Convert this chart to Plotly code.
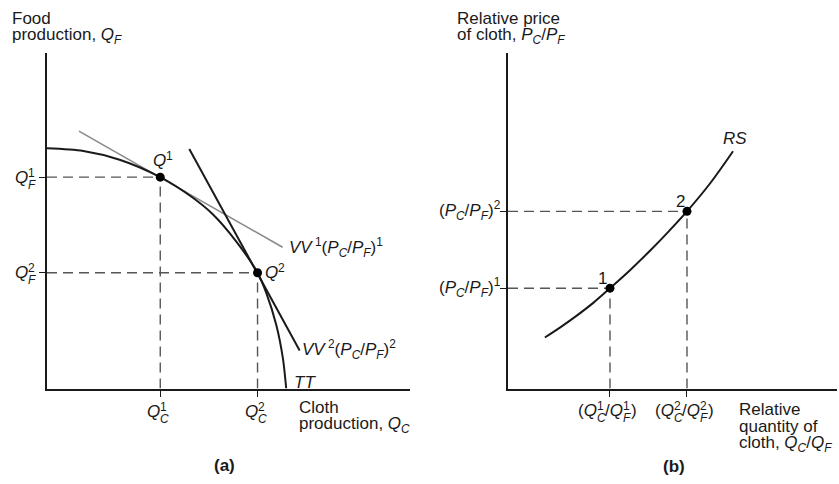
import plotly.graph_objects as go

W, H = 839, 484
FONT = "Liberation Sans, Arial, Helvetica, sans-serif"
INK = "#1a1a1a"
FS, FSS = 17, 12

# ---------------- Panel (a) data: production possibility frontier ----------------
tt_x = [0, 1, 2, 3.12, 4, 4.56, 5.2, 5.8, 6.04, 6.32, 6.5, 6.59]
tt_y = [7.16, 7.08, 6.82, 6.3, 5.70, 5.2, 4.4, 3.45, 2.85, 1.88, 0.89, 0]
vv1_x = [0.88, 6.49]
vv1_y = [7.67, 4.21]
vv2_x = [3.92, 6.96]
vv2_y = [7.14, 1.13]
prod_c = [3.12, 5.8]    # Q_C^1, Q_C^2
prod_f = [6.3, 3.45]    # Q_F^1, Q_F^2

# ---------------- Panel (b) data: relative supply ----------------
rs_x = [1.12, 1.6, 2.1, 2.6, 3.10, 3.7, 4.3, 4.9, 5.44, 6.14, 6.84]
rs_y = [1.52, 1.83, 2.18, 2.56, 2.99, 3.52, 4.09, 4.70, 5.28, 6.11, 7.07]
rel_q = [3.10, 5.44]    # (Q_C/Q_F)^1, ^2
rel_p = [2.99, 5.28]    # (P_C/P_F)^1, ^2
point_labels = ["1", "2"]


def px(xp, yp):
    return xp / W, 1 - yp / H


def ann(text, x, y, xref="paper", yref="paper", xanchor="left", yanchor="middle",
        xshift=0, yshift=0, size=FS):
    return dict(text=text, x=x, y=y, xref=xref, yref=yref, xanchor=xanchor,
                yanchor=yanchor, xshift=xshift, yshift=yshift, showarrow=False,
                font=dict(size=size, family=FONT, color=INK), borderpad=0, borderwidth=0)


def stack(x, y, xref, yref, base, sup, sub, xs, ys):
    out = [ann(base, x, y, xref, yref, xanchor="right", xshift=xs, yshift=ys)]
    out.append(ann(sup, x, y, xref, yref, xanchor="left", xshift=xs, yshift=ys + 4.5, size=FSS))
    if sub:
        out.append(ann("<i>%s</i>" % sub, x, y, xref, yref, xanchor="left",
                       xshift=xs, yshift=ys - 7.5, size=FSS))
    return out


fig = go.Figure()
DASH = dict(color="#555555", width=1.4, dash="10px,6px")

# Panel (a) traces
for i in range(2):
    fig.add_trace(go.Scatter(x=[0, prod_c[i]], y=[prod_f[i], prod_f[i]], mode="lines",
                             line=DASH, xaxis="x", yaxis="y"))
    fig.add_trace(go.Scatter(x=[prod_c[i], prod_c[i]], y=[0, prod_f[i]], mode="lines",
                             line=DASH, xaxis="x", yaxis="y"))
fig.add_trace(go.Scatter(x=vv1_x, y=vv1_y, mode="lines", line=dict(color="#8a8a8a", width=1.6),
                         xaxis="x", yaxis="y"))
fig.add_trace(go.Scatter(x=vv2_x, y=vv2_y, mode="lines", line=dict(color=INK, width=2),
                         xaxis="x", yaxis="y"))
fig.add_trace(go.Scatter(x=tt_x, y=tt_y, mode="lines",
                         line=dict(color=INK, width=2, shape="spline", smoothing=0.8),
                         xaxis="x", yaxis="y"))
fig.add_trace(go.Scatter(x=prod_c, y=prod_f, mode="markers",
                         marker=dict(color="black", size=9), xaxis="x", yaxis="y"))

# Panel (b) traces
for i in range(2):
    fig.add_trace(go.Scatter(x=[0, rel_q[i]], y=[rel_p[i], rel_p[i]], mode="lines",
                             line=DASH, xaxis="x2", yaxis="y2"))
    fig.add_trace(go.Scatter(x=[rel_q[i], rel_q[i]], y=[0, rel_p[i]], mode="lines",
                             line=DASH, xaxis="x2", yaxis="y2"))
fig.add_trace(go.Scatter(x=rs_x, y=rs_y, mode="lines",
                         line=dict(color=INK, width=2, shape="spline", smoothing=1.0),
                         xaxis="x2", yaxis="y2"))
fig.add_trace(go.Scatter(x=rel_q, y=rel_p, mode="markers",
                         marker=dict(color="black", size=9), xaxis="x2", yaxis="y2"))

annotations = []
# ---- Panel (a) text ----
annotations.append(ann("Food", *px(12, 18.5)))
annotations.append(ann("production, <i>Q</i><sub><i>F</i></sub>", *px(12, 35.5)))
for i in range(2):
    annotations += stack(0, prod_f[i], "x", "y", "<i>Q</i>", str(i + 1), "F", -19, 0)
    annotations += stack(prod_c[i], 0, "x", "y", "<i>Q</i>", str(i + 1), "C", 0, -22.5)
annotations += stack(prod_c[0], prod_f[0], "x", "y", "<i>Q</i>", "1", None, 6, 17)
annotations += stack(prod_c[1], prod_f[1], "x", "y", "<i>Q</i>", "2", None, 20, 0)
annotations.append(ann("<i>VV</i><sup> 1</sup>(<i>P</i><sub><i>C</i></sub>/<i>P</i><sub><i>F</i></sub>)<sup>1</sup>",
                       vv1_x[-1], vv1_y[-1], "x", "y", xshift=6, yshift=0))
annotations.append(ann("<i>VV</i><sup> 2</sup>(<i>P</i><sub><i>C</i></sub>/<i>P</i><sub><i>F</i></sub>)<sup>2</sup>",
                       vv2_x[-1], vv2_y[-1], "x", "y", xshift=2, yshift=1))
annotations.append(ann("<i>TT</i>", tt_x[-1], tt_y[-1], "x", "y", xshift=8, yshift=6))
annotations.append(ann("Cloth", *px(299, 407)))
annotations.append(ann("production, <i>Q</i><sub><i>C</i></sub>", *px(299, 424.5)))
annotations.append(ann("<b>(a)</b>", *px(224.5, 465), xanchor="center"))

# ---- Panel (b) text ----
annotations.append(ann("Relative price", *px(457, 18.5)))
annotations.append(ann("of cloth, <i>P</i><sub><i>C</i></sub>/<i>P</i><sub><i>F</i></sub>", *px(457, 35.5)))
for i in range(2):
    k = str(i + 1)
    annotations.append(ann("(<i>P</i><sub><i>C</i></sub>/<i>P</i><sub><i>F</i></sub>)<sup>%s</sup>" % k,
                           0, rel_p[i], "x2", "y2", xanchor="right", xshift=-7, yshift=1))
    j1, j2, ys = -13.4, 13.3, -22
    annotations.append(ann("(<i>Q</i>", rel_q[i], 0, "x2", "y2", xanchor="right", xshift=j1, yshift=ys))
    annotations += stack(rel_q[i], 0, "x2", "y2", "", k, "C", j1, ys)[1:]
    annotations.append(ann("/<i>Q</i>", rel_q[i], 0, "x2", "y2", xanchor="right", xshift=j2, yshift=ys))
    annotations += stack(rel_q[i], 0, "x2", "y2", "", k, "F", j2, ys)[1:]
    annotations.append(ann(")", rel_q[i], 0, "x2", "y2", xanchor="left", xshift=j2 + 7.3, yshift=ys))
annotations.append(ann(point_labels[0], rel_q[0], rel_p[0], "x2", "y2", xanchor="center",
                       xshift=-7.5, yshift=10))
annotations.append(ann(point_labels[1], rel_q[1], rel_p[1], "x2", "y2", xanchor="center",
                       xshift=-6, yshift=10))
annotations.append(ann("<i>RS</i>", rs_x[-1], rs_y[-1], "x2", "y2", xanchor="center",
                       xshift=2, yshift=13))
annotations.append(ann("Relative", *px(739, 409)))
annotations.append(ann("quantity of", *px(739, 426.5)))
annotations.append(ann("cloth, <i>Q</i><sub><i>C</i></sub>/<i>Q</i><sub><i>F</i></sub>", *px(739, 444)))
annotations.append(ann("<b>(b)</b>", *px(673.5, 466), xanchor="center"))

ydom = [1 - 388.5 / H, 1 - 53 / H]
axis_common = dict(range=[0, 10], showline=True, linewidth=2, linecolor=INK, showgrid=False,
                   zeroline=False, ticks="outside", ticklen=6, tickwidth=1.2, tickcolor=INK,
                   showticklabels=False, fixedrange=True)

fig.update_layout(
    width=W, height=H, margin=dict(l=0, r=0, t=0, b=0),
    paper_bgcolor="white", plot_bgcolor="white", showlegend=False,
    xaxis=dict(domain=[47 / W, 410 / W], anchor="y", tickvals=prod_c, **axis_common),
    yaxis=dict(domain=ydom, anchor="x", tickvals=prod_f, **axis_common),
    xaxis2=dict(domain=[508 / W, 837 / W], anchor="y2", tickvals=rel_q, **axis_common),
    yaxis2=dict(domain=ydom, anchor="x2", tickvals=rel_p, **axis_common),
    annotations=annotations,
)

fig.write_html("out.html", config={"displayModeBar": False},
               post_script="document.body.style.margin='0';document.body.style.overflow='hidden';")
